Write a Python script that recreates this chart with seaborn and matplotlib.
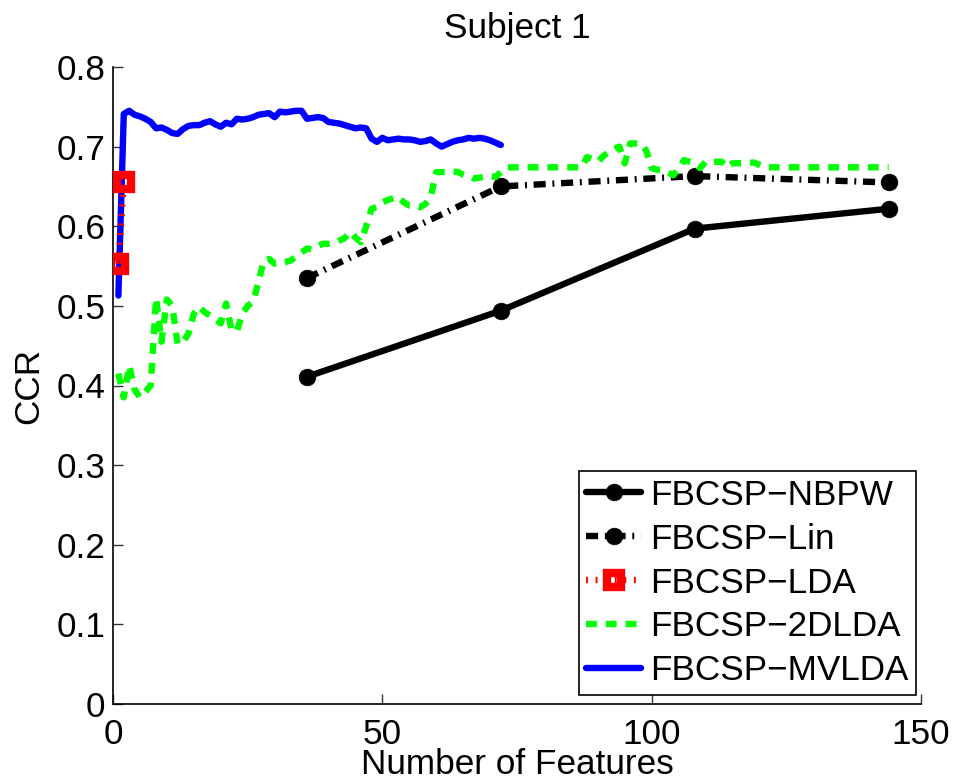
import matplotlib
matplotlib.use("Agg")
import matplotlib.pyplot as plt
import pandas as pd
import seaborn as sns

# CCR versus number of features for the five FBCSP variants
nbpw_x = [36, 72, 108, 144]
nbpw_y = [0.411, 0.494, 0.597, 0.622]

lin_x = [36, 72, 108, 144]
lin_y = [0.535, 0.650, 0.663, 0.655]

lda_x = [1, 2]
lda_y = [0.553, 0.655]

dlda2_x = [1, 2, 3, 4, 5, 6, 7, 8, 9, 10, 11, 12, 13, 14, 15, 16, 17, 18, 19, 20,
           21, 22, 23, 24, 25, 26, 27, 28, 29, 30, 31, 32, 33, 34, 35, 36, 37, 38, 39, 40,
           41, 42, 43, 44, 45, 46, 47, 48, 49, 50, 51, 52, 53, 54, 55, 56, 57, 58, 59, 60,
           61, 62, 63, 64, 65, 66, 67, 68, 69, 70, 71, 72, 73, 87, 88, 89, 90, 91, 92, 93,
           94, 95, 96, 97, 98, 99, 100, 101, 102, 103, 104, 105, 106, 107, 108, 109, 110,
           113, 114, 115, 119, 120, 121, 144]
dlda2_y = [0.415, 0.385, 0.425, 0.395, 0.385, 0.392, 0.400, 0.510, 0.455, 0.508,
           0.500, 0.452, 0.455, 0.465, 0.490, 0.499, 0.492, 0.488, 0.483, 0.478,
           0.503, 0.470, 0.468, 0.490, 0.500, 0.505, 0.530, 0.557, 0.559, 0.553,
           0.554, 0.555, 0.557, 0.562, 0.567, 0.572, 0.571, 0.575, 0.578, 0.578,
           0.579, 0.582, 0.585, 0.593, 0.586, 0.580, 0.600, 0.622, 0.624, 0.630,
           0.633, 0.635, 0.637, 0.630, 0.626, 0.626, 0.624, 0.628, 0.637, 0.668,
           0.668, 0.668, 0.669, 0.668, 0.665, 0.663, 0.660, 0.661, 0.662, 0.663,
           0.662, 0.668, 0.674, 0.674, 0.687, 0.684, 0.681, 0.688, 0.693, 0.697,
           0.700, 0.679, 0.704, 0.704, 0.704, 0.695, 0.673, 0.671, 0.671, 0.668,
           0.664, 0.672, 0.683, 0.681, 0.679, 0.673, 0.681,
           0.681, 0.674, 0.679, 0.680, 0.677, 0.674, 0.674]

mvlda_x = list(range(1, 73))
mvlda_y = [0.513, 0.741, 0.745, 0.740, 0.738, 0.735, 0.731, 0.723, 0.724, 0.721,
           0.717, 0.716, 0.722, 0.726, 0.727, 0.727, 0.730, 0.732, 0.728, 0.725,
           0.730, 0.728, 0.735, 0.734, 0.735, 0.737, 0.740, 0.741, 0.742, 0.737,
           0.744, 0.743, 0.744, 0.745, 0.745, 0.735, 0.736, 0.737, 0.736, 0.731,
           0.730, 0.729, 0.727, 0.725, 0.723, 0.724, 0.723, 0.710, 0.706, 0.711,
           0.708, 0.709, 0.710, 0.709, 0.709, 0.708, 0.706, 0.707, 0.709, 0.704,
           0.700, 0.703, 0.706, 0.708, 0.709, 0.711, 0.710, 0.711, 0.710, 0.708,
           0.705, 0.702]

labels = ["FBCSP\u2212NBPW", "FBCSP\u2212Lin", "FBCSP\u2212LDA",
          "FBCSP\u22122DLDA", "FBCSP\u2212MVLDA"]

x_ticks = [0, 50, 100, 150]
y_ticks = [0, 0.1, 0.2, 0.3, 0.4, 0.5, 0.6, 0.7, 0.8]

sns.set_style("ticks")
plt.rcParams["font.family"] = ["Liberation Sans", "DejaVu Sans"]
plt.rcParams["text.color"] = "black"
plt.rcParams["axes.labelcolor"] = "black"
plt.rcParams["xtick.color"] = "black"
plt.rcParams["ytick.color"] = "black"
FS = 25.3
LW = 4.6

fig = plt.figure(figsize=(9.57, 7.82), dpi=100)
ax = fig.add_axes([113 / 957, 78 / 782, 808 / 957, 637 / 782])

series = [
    (nbpw_x, nbpw_y, labels[0]),
    (lin_x, lin_y, labels[1]),
    (lda_x, lda_y, labels[2]),
    (dlda2_x, dlda2_y, labels[3]),
    (mvlda_x, mvlda_y, labels[4]),
]
lines = []
for xs, ys, lab in series:
    df = pd.DataFrame({"features": xs, "ccr": ys})
    sns.lineplot(data=df, x="features", y="ccr", ax=ax, label=lab,
                 estimator=None, sort=True, legend=False)
    lines.append(ax.lines[-1])

nbpw, lin, lda, dlda2, mvlda = lines

nbpw.set(color="k", linewidth=LW, linestyle="-", marker="o", markersize=12,
         markerfacecolor="k", markeredgecolor="k", markeredgewidth=0.5, zorder=3)
lin.set(color="k", linewidth=LW, marker="o", markersize=12,
        markerfacecolor="k", markeredgecolor="k", markeredgewidth=0.5, zorder=3)
lin.set_dashes((1.9, 1.05, 0.3, 1.05))
lin.set_dash_capstyle("butt")
lda.set(color="red", linewidth=LW, marker="s", markersize=10.5,
        markerfacecolor="none", markeredgecolor="red", markeredgewidth=6.0, zorder=6)
lda.set_dashes((0.3, 1.2))
lda.set_dash_capstyle("butt")
dlda2.set(color=(0, 1, 0), linewidth=LW, zorder=4)
dlda2.set_dashes((1.7, 1.4))
dlda2.set_dash_capstyle("butt")
mvlda.set(color=(0, 0, 1), linewidth=LW, linestyle="-", zorder=5)

ax.set_xlim(0, 150)
ax.set_ylim(0, 0.8)
ax.set_xticks(x_ticks)
ax.set_yticks(y_ticks)
ax.set_xticklabels([str(v) for v in x_ticks])
ax.set_yticklabels(["0" if v == 0 else f"{v:.1f}" for v in y_ticks])
ax.tick_params(direction="in", length=7, width=1, labelsize=FS, color="#333333")
ax.tick_params(axis="y", pad=5.5)
ax.tick_params(axis="x", pad=10)
sns.despine(ax=ax)
for sp in ("left", "bottom"):
    ax.spines[sp].set_linewidth(1.2)
    ax.spines[sp].set_color("k")

ax.set_title("Subject 1", fontsize=FS, pad=21)
ax.set_xlabel("Number of Features", fontsize=FS, labelpad=-2)
ax.set_ylabel("CCR", fontsize=FS, labelpad=8)

leg = ax.legend(lines, labels, loc="lower right", bbox_to_anchor=(0.9938, 0.0141),
                borderaxespad=0, fontsize=FS, frameon=True, fancybox=False,
                edgecolor="k", framealpha=1, handlelength=1.55, handletextpad=0.26,
                labelspacing=0.31, borderpad=0.22, numpoints=1)
leg.get_frame().set_linewidth(1.2)

fig.savefig("out.png", dpi=100)
